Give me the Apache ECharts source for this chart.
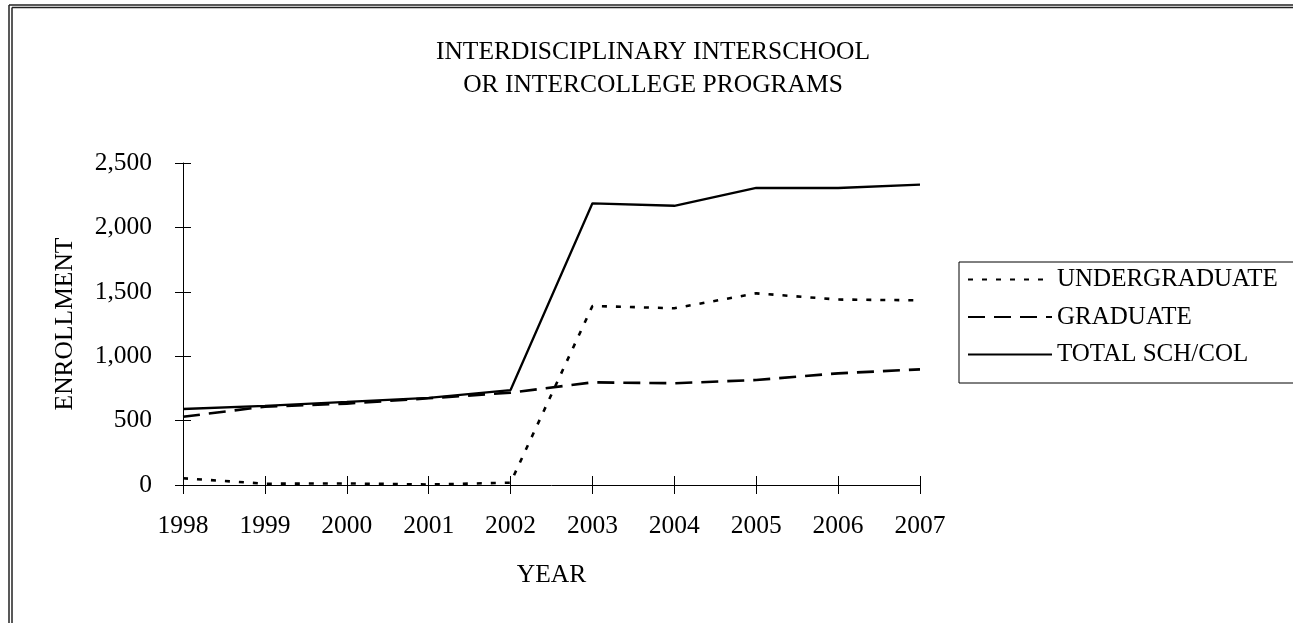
<!DOCTYPE html>
<html>
<head>
<meta charset="utf-8">
<script src="https://cdn.jsdelivr.net/npm/echarts@6/dist/echarts.min.js"></script>
<style>
html,body{margin:0;padding:0;background:#fff;}
#chart{width:1293px;height:623px;}
</style>
</head>
<body>
<div id="chart"></div>
<script>
const years = ['1998','1999','2000','2001','2002','2003','2004','2005','2006','2007'];
const undergraduate = [52, 10, 12, 4, 18, 1390, 1372, 1488, 1440, 1434];
const graduate = [530, 608, 632, 673, 717, 797, 790, 815, 867, 898];
const total = [590, 615, 645, 676, 737, 2187, 2168, 2306, 2306, 2332];
const titleText = 'INTERDISCIPLINARY INTERSCHOOL\nOR INTERCOLLEGE PROGRAMS';

const FONT = 'Liberation Serif';
const FS = 25.5;
const chart = echarts.init(document.getElementById('chart'));
const fmt = v => v.toLocaleString('en-US');

const border = {stroke: '#222', lineWidth: 1.5};
chart.setOption({
  backgroundColor: '#fff',
  animation: false,
  title: {
    text: titleText, left: 653, top: 35.5, textAlign: 'center', padding: 0,
    textStyle: {fontFamily: FONT, fontSize: FS, fontWeight: 'normal', color: '#000', lineHeight: 33}
  },
  legend: {
    orient: 'vertical', left: 959, top: 262,
    itemWidth: 84, itemHeight: 14, itemGap: 12.5,
    padding: [5, 16, 16, 8],
    borderColor: '#000', borderWidth: 1,
    itemStyle: {color: 'rgba(0,0,0,0)', borderWidth: 0},
    textStyle: {fontFamily: FONT, fontSize: 25, color: '#000'},
    data: ['UNDERGRADUATE', 'GRADUATE', 'TOTAL SCH/COL']
  },
  grid: {left: 183, top: 163, right: 373, bottom: 138},
  xAxis: [{
    type: 'category', data: years, boundaryGap: false,
    name: 'YEAR', nameLocation: 'middle', nameGap: 77,
    nameTextStyle: {fontFamily: FONT, fontSize: FS, color: '#000'},
    axisLine: {lineStyle: {color: '#000', width: 1}},
    axisTick: {length: 9, lineStyle: {color: '#000'}},
    axisLabel: {fontFamily: FONT, fontSize: FS, color: '#000', margin: 28}
  }, {
    type: 'category', data: years, boundaryGap: false, position: 'bottom',
    axisLine: {show: false},
    axisTick: {inside: true, length: 9, lineStyle: {color: '#000'}},
    axisLabel: {show: false}
  }],
  yAxis: [{
    type: 'value', min: 0, max: 2500, interval: 500,
    name: 'ENROLLMENT', nameLocation: 'middle', nameGap: 105, nameRotate: 90,
    nameTextStyle: {fontFamily: FONT, fontSize: FS, color: '#000'},
    axisLine: {show: true, lineStyle: {color: '#000', width: 1}},
    axisTick: {show: true, length: 8, lineStyle: {color: '#000'}},
    splitLine: {show: false},
    axisLabel: {fontFamily: FONT, fontSize: FS, color: '#000', margin: 31, formatter: fmt}
  }, {
    type: 'value', min: 0, max: 2500, interval: 500, position: 'left',
    axisLine: {show: false},
    axisTick: {show: true, inside: true, length: 8, lineStyle: {color: '#000'}},
    splitLine: {show: false},
    axisLabel: {show: false}
  }],
  series: [{
    name: 'UNDERGRADUATE', type: 'line', data: undergraduate,
    symbol: 'none', color: '#000',
    lineStyle: {color: '#000', width: 2.6, type: [5, 9]}
  }, {
    name: 'GRADUATE', type: 'line', data: graduate,
    symbol: 'none', color: '#000',
    lineStyle: {color: '#000', width: 2.6, type: [17, 9]}
  }, {
    name: 'TOTAL SCH/COL', type: 'line', data: total,
    symbol: 'none', color: '#000',
    lineStyle: {color: '#000', width: 2.3}
  }],
  graphic: [
    {type: 'line', shape: {x1: 9, y1: 5, x2: 1293, y2: 5}, style: border},
    {type: 'line', shape: {x1: 12, y1: 7.5, x2: 1293, y2: 7.5}, style: border},
    {type: 'line', shape: {x1: 9, y1: 5, x2: 9, y2: 623}, style: border},
    {type: 'line', shape: {x1: 12, y1: 7.5, x2: 12, y2: 623}, style: border}
  ]
});
</script>
</body>
</html>
